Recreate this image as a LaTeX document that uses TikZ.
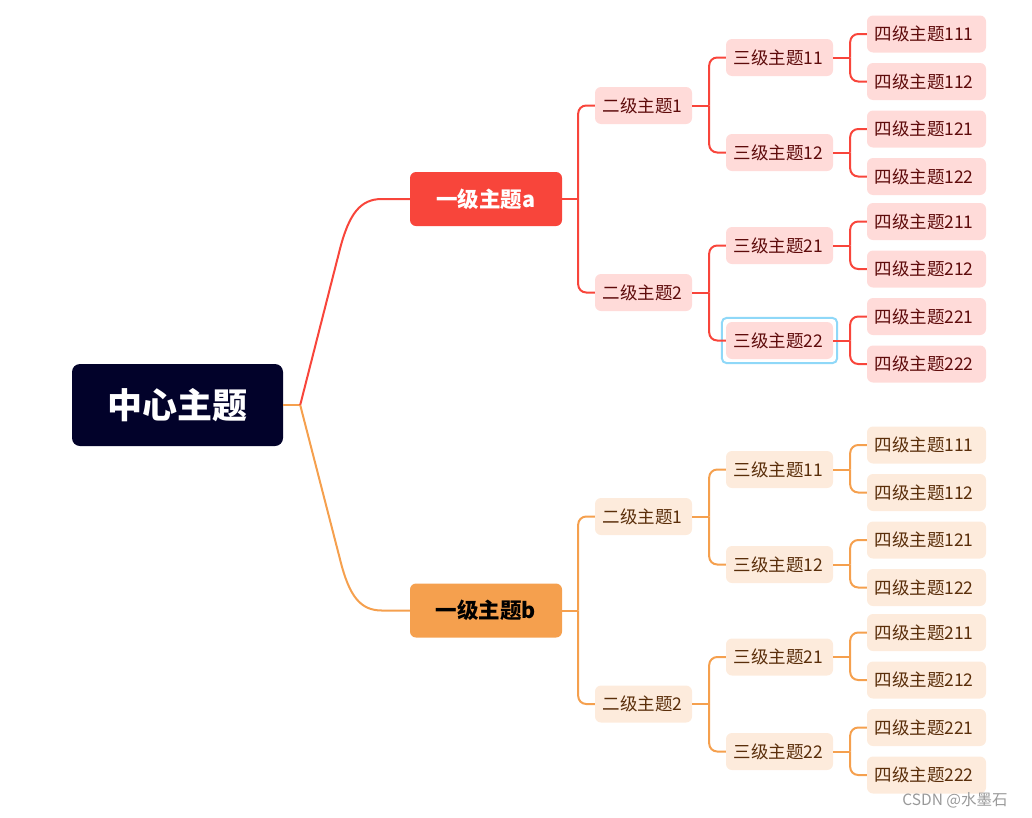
\documentclass[tikz,border=0pt]{standalone}
\usepackage{fontspec}
\setmainfont{Noto Sans CJK SC}
\usetikzlibrary{calc,fit}
\definecolor{ctrfill}{HTML}{02022A}
\definecolor{redA}{HTML}{F8453B}
\definecolor{orgB}{HTML}{F5A04E}
\definecolor{pinkA}{HTML}{FFDBD9}
\definecolor{peachB}{HTML}{FDEBDC}
\definecolor{txtA}{HTML}{5E0B0B}
\definecolor{txtB}{HTML}{5A2E0A}
\definecolor{hlblue}{HTML}{8FD8F8}
\begin{document}
\begin{tikzpicture}[x=1pt,y=-1pt,
  box/.style={rounded corners=6pt, inner xsep=7.5pt, inner ysep=0pt, minimum height=37pt,
    align=left, font=\fontsize{17.5}{19}\selectfont},
  lvtwo/.style={box, text width=82pt},
  lvthree/.style={box, text width=92pt},
  lvfour/.style={box, text width=104pt},
  sa/.style={fill=pinkA, text=txtA},
  sb/.style={fill=peachB, text=txtB},
  lvone/.style={rounded corners=6pt, inner sep=0pt, minimum width=152pt,
    minimum height=54pt, font=\fontsize{21.5}{24}\selectfont\bfseries},
  lna/.style={draw=redA, line width=2pt},
  lnb/.style={draw=orgB, line width=2pt},
  rc/.style={rounded corners=8pt}
]
\useasboundingbox (0,0) rectangle (1032,817);

% center
\node[fill=ctrfill, text=white, rounded corners=8pt, minimum width=211pt,
  minimum height=82pt, inner sep=0pt, font=\fontsize{35}{38}\selectfont\bfseries]
  (c) at (177.5,405) {中心主题};

% level 1
\node[lvone, fill=redA, text=white] (A) at (486,199) {一级主题a};
\node[lvone, fill=orgB, text=black] (B) at (486,610.5) {一级主题b};

% level 2
\node[lvtwo, sa] (A1) at (643.5,105.5) {二级主题1};
\node[lvtwo, sa] (A2) at (643.5,292.5) {二级主题2};
\node[lvtwo, sb] (B1) at (643.5,516.5) {二级主题1};
\node[lvtwo, sb] (B2) at (643.5,704) {二级主题2};

% level 3
\node[lvthree, sa] (A11) at (779.5,57.5) {三级主题11};
\node[lvthree, sa] (A12) at (779.5,152.5) {三级主题12};
\node[lvthree, sa] (A21) at (779.5,245.5) {三级主题21};
\node[lvthree, sa] (A22) at (779.5,340.5) {三级主题22};
\node[lvthree, sb] (B11) at (779.5,469.5) {三级主题11};
\node[lvthree, sb] (B12) at (779.5,564.5) {三级主题12};
\node[lvthree, sb] (B21) at (779.5,657) {三级主题21};
\node[lvthree, sb] (B22) at (779.5,751.5) {三级主题22};

% level 4
\node[lvfour, sa] (A111) at (926.5,34) {四级主题111};
\node[lvfour, sa] (A112) at (926.5,81.5) {四级主题112};
\node[lvfour, sa] (A121) at (926.5,129) {四级主题121};
\node[lvfour, sa] (A122) at (926.5,176.5) {四级主题122};
\node[lvfour, sa] (A211) at (926.5,221.5) {四级主题211};
\node[lvfour, sa] (A212) at (926.5,269) {四级主题212};
\node[lvfour, sa] (A221) at (926.5,316.5) {四级主题221};
\node[lvfour, sa] (A222) at (926.5,364) {四级主题222};
\node[lvfour, sb] (B111) at (926.5,445) {四级主题111};
\node[lvfour, sb] (B112) at (926.5,492.5) {四级主题112};
\node[lvfour, sb] (B121) at (926.5,540) {四级主题121};
\node[lvfour, sb] (B122) at (926.5,587.5) {四级主题122};
\node[lvfour, sb] (B211) at (926.5,632.5) {四级主题211};
\node[lvfour, sb] (B212) at (926.5,680) {四级主题212};
\node[lvfour, sb] (B221) at (926.5,727.5) {四级主题221};
\node[lvfour, sb] (B222) at (926.5,775) {四级主题222};

% highlight
\node[fit=(A22), draw=hlblue, line width=2pt, rounded corners=5pt, inner sep=4pt] (hl) {};

% center connectors
\draw[lnb] (c.east) -- ++(17,0) coordinate (cj);
\draw[lna] (cj) -- ($(cj)+(40,-157)$) .. controls ($(cj)+(49,-191)$) and ($(cj)+(60,-206)$) .. ($(A.west)+(-28,0)$) -- (A.west);
\draw[lnb] (cj) -- ($(cj)+(40,155)$) .. controls ($(cj)+(49,191)$) and ($(cj)+(60,205.5)$) .. ($(B.west)+(-28,0)$) -- (B.west);

% level1 -> level2
\draw[lna] (A.east) -- ++(16,0) coordinate (Aj);
\draw[lna,rc] (Aj) |- (A1.west);
\draw[lna,rc] (Aj) |- (A2.west);
\draw[lnb] (B.east) -- ++(16,0) coordinate (Bj);
\draw[lnb,rc] (Bj) |- (B1.west);
\draw[lnb,rc] (Bj) |- (B2.west);

% level2 -> level3
\foreach \p/\s in {A1/lna, A2/lna, B1/lnb, B2/lnb}{
  \draw[\s] (\p.east) -- ++(17,0) coordinate (\p j);
  \draw[\s,rc] (\p j) |- (\p1.west);
  \draw[\s,rc] (\p j) |- (\p2.west);
}

% level3 -> level4
\foreach \p/\s in {A11/lna, A12/lna, A21/lna, A22/lna, B11/lnb, B12/lnb, B21/lnb, B22/lnb}{
  \draw[\s] (\p.east) -- ++(17,0) coordinate (\p j);
  \draw[\s,rc] (\p j) |- (\p1.west);
  \draw[\s,rc] (\p j) |- (\p2.west);
}

% watermark
\node[text=black!40, font=\fontsize{15.5}{17}\selectfont, inner sep=0pt] (wm) at (955,800) {CSDN @水墨石};
\end{tikzpicture}
\end{document}
